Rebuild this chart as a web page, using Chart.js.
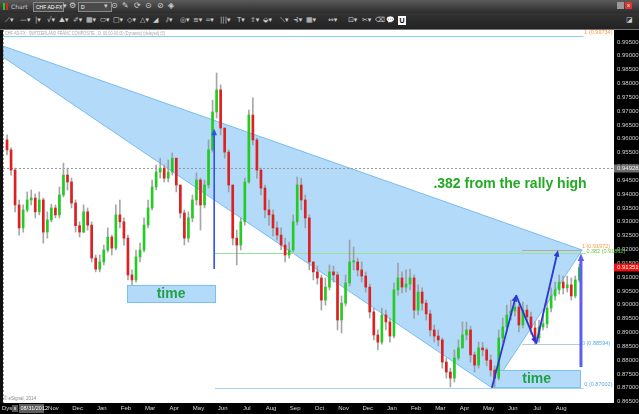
<!DOCTYPE html>
<html>
<head>
<meta charset="utf-8">
<script src="https://cdn.jsdelivr.net/npm/chart.js@4.4.1/dist/chart.umd.min.js"></script>
<style>
  html,body{margin:0;padding:0;width:639px;height:414px;overflow:hidden;background:#000;font-family:"Liberation Sans",Arial,sans-serif;}
  #tb1{position:absolute;left:0;top:0;width:639px;height:13px;background:linear-gradient(#5a5a5a,#2c2c2c);}
  #tb2{position:absolute;left:0;top:13px;width:639px;height:16px;background:linear-gradient(#333,#222);}
  #tbline{position:absolute;left:0;top:29px;width:639px;height:1px;background:#777;}
  .t{position:absolute;color:#cfcfcf;font-size:7px;line-height:9px;white-space:nowrap;font-family:"DejaVu Sans",sans-serif;}
  .box{position:absolute;background:#4a4a4a;border:1px solid #8a8a8a;height:8px;color:#fff;font-size:5px;line-height:8px;padding-left:2px;white-space:nowrap;overflow:hidden;}
  #wrap{position:absolute;left:0;top:30px;width:639px;height:384px;}
</style>
</head>
<body>
<div id="tb1">
  <div style="position:absolute;left:3px;top:3px;width:2px;height:7px;background:#2c2"></div>
  <div style="position:absolute;left:6px;top:3px;width:2px;height:7px;background:#d22"></div>
  <span class="t" style="left:11px;top:2px;font-size:6px">Chart</span>
  <div class="box" style="left:33px;top:2px;width:27px">CHF AD-FX</div>
  <span class="t" style="left:63px;top:2px">▾</span>
  <span class="t" style="left:69px;top:1px;font-size:8px">⚙</span>
  <div class="box" style="left:78px;top:2px;width:30px">D</div>
  <span class="t" style="left:104px;top:2px">▾</span>
  <span class="t" style="left:111px;top:1px;font-size:8px">⊙</span>
  <span class="t" style="left:122px;top:1px;font-size:8px">✎</span>
  <span class="t" style="left:134px;top:1px;font-size:8px">⟳</span>
  <span class="t" style="left:145px;top:1px;font-size:8px">⊙</span>
  <span class="t" style="left:157px;top:1px;font-size:8px">⊘</span>
  <span class="t" style="left:168px;top:1px;font-size:8px">◈</span>
  <div style="position:absolute;left:617px;top:2px;width:7px;height:7px;background:#999"></div>
  <div style="position:absolute;left:625px;top:2px;width:7px;height:7px;background:#d33;color:#fff;font-size:6px;line-height:7px;text-align:center">x</div>
</div>
<div id="tb2">
  <span class="t" style="left:5px;top:3px">⟋▾</span>
  <span class="t" style="left:20px;top:3px">—▾</span>
  <span class="t" style="left:35px;top:3px">|▾</span>
  <span class="t" style="left:47px;top:3px">√▾</span>
  <span class="t" style="left:59px;top:3px">⛰▾</span>
  <span class="t" style="left:73px;top:3px">✐▾</span>
  <span class="t" style="left:86px;top:3px">▦▾</span>
  <span class="t" style="left:100px;top:3px">⬭▾</span>
  <span class="t" style="left:113px;top:3px">□▾</span>
  <span class="t" style="left:127px;top:3px">◇▾</span>
  <span class="t" style="left:140px;top:3px">△▾</span>
  <span class="t" style="left:153px;top:3px">◢</span>
  <span class="t" style="left:166px;top:3px">⫽▾</span>
  <span class="t" style="left:180px;top:3px">◎▾</span>
  <span class="t" style="left:193px;top:3px">≡▾</span>
  <span class="t" style="left:206px;top:3px">═▾</span>
  <span class="t" style="left:220px;top:3px">|||▾</span>
  <span class="t" style="left:237px;top:3px">T▾</span>
  <span class="t" style="left:250px;top:3px">⇧▾</span>
  <span class="t" style="left:263px;top:3px">⬙▾</span>
  <span class="t" style="left:280px;top:3px">⟍▾</span>
  <span class="t" style="left:293px;top:3px">⊰▾</span>
  <span class="t" style="left:306px;top:3px">▦▾</span>
  <span class="t" style="left:328px;top:3px">⇔▾</span>
  <span class="t" style="left:348px;top:3px">⊡▾</span>
  <span class="t" style="left:362px;top:3px">✂▾</span>
  <span class="t" style="left:375px;top:3px">⌫</span>
  <span class="t" style="left:386px;top:3px">💬</span>
  <div style="position:absolute;left:398px;top:3px;width:8px;height:9px;background:#fff;color:#000;font-size:7px;line-height:9px;text-align:center;font-weight:bold">U</div>
  <span class="t" style="left:626px;top:3px">◪</span>
</div>
<div id="tbline"></div>
<div id="wrap"><canvas id="c" width="639" height="384"></canvas></div>
<script>
// ---------- data ----------
const firstOpen = 0.9596;
const closes = [
0.9560,0.9487,0.9361,0.9278,0.9343,0.9379,0.9386,0.9336,0.9379,0.9263,
0.9307,0.9350,0.9325,0.9397,0.9469,0.9444,0.9368,0.9286,0.9263,0.9336,
0.9288,0.9169,0.9129,0.9155,0.9198,0.9245,0.9205,0.9325,0.9300,0.9241,
0.9108,0.9090,0.9173,0.9198,0.9288,0.9350,0.9426,0.9480,0.9494,0.9458,
0.9480,0.9530,0.9433,0.9332,0.9241,0.9314,0.9379,0.9451,0.9361,0.9433,
0.9560,0.9697,0.9777,0.9639,0.9552,0.9433,0.9241,0.9216,0.9300,0.9444,
0.9686,0.9596,0.9487,0.9422,0.9343,0.9325,0.9278,0.9252,0.9216,0.9180,
0.9198,0.9300,0.9433,0.9379,0.9314,0.9155,0.9119,0.9097,0.9017,0.9064,
0.9119,0.9108,0.8945,0.9006,0.9079,0.9155,0.9155,0.9126,0.9104,0.9064,
0.8974,0.8891,0.8865,0.8963,0.8938,0.8887,0.9054,0.9097,0.9064,0.9075,
0.9097,0.8981,0.9046,0.9006,0.8967,0.8909,0.8887,0.8873,0.8793,0.8757,
0.8735,0.8808,0.8844,0.8891,0.8909,0.8819,0.8782,0.8844,0.8837,0.8800,
0.8764,0.8735,0.8880,0.8920,0.8963,0.8978,0.8992,0.8927,0.8981,0.8956,
0.8916,0.8880,0.8920,0.8931,0.8988,0.9032,0.9054,0.9082,0.9061,0.9072,
0.9032,0.9090,0.9135
];
const highs = [
0.9614,0.9567,0.9494,0.9379,0.9361,0.9408,0.9415,0.9401,0.9408,0.9386,
0.9336,0.9364,0.9361,0.9426,0.9512,0.9494,0.9458,0.9379,0.9300,0.9361,
0.9350,0.9300,0.9180,0.9180,0.9216,0.9278,0.9252,0.9361,0.9379,0.9314,
0.9252,0.9126,0.9198,0.9223,0.9314,0.9379,0.9451,0.9505,0.9530,0.9505,
0.9523,0.9549,0.9530,0.9433,0.9343,0.9336,0.9397,0.9477,0.9458,0.9451,
0.9596,0.9740,0.9838,0.9795,0.9639,0.9560,0.9433,0.9270,0.9314,0.9458,
0.9704,0.9748,0.9603,0.9494,0.9433,0.9379,0.9343,0.9300,0.9278,0.9241,
0.9227,0.9325,0.9462,0.9458,0.9397,0.9325,0.9155,0.9140,0.9108,0.9097,
0.9144,0.9140,0.9119,0.9032,0.9108,0.9234,0.9209,0.9169,0.9155,0.9119,
0.9075,0.8988,0.8909,0.8988,0.8981,0.8952,0.9079,0.9151,0.9119,0.9126,
0.9129,0.9108,0.9072,0.9061,0.9017,0.8981,0.8927,0.8909,0.8880,0.8808,
0.8771,0.8837,0.8873,0.8938,0.8938,0.8923,0.8829,0.8865,0.8865,0.8844,
0.8819,0.8779,0.8909,0.8952,0.8999,0.9017,0.9025,0.9003,0.9010,0.8999,
0.8974,0.8938,0.8945,0.8963,0.9017,0.9061,0.9082,0.9108,0.9104,0.9104,
0.9097,0.9104,0.9147
];
const lows = [
0.9542,0.9469,0.9336,0.9252,0.9263,0.9336,0.9361,0.9314,0.9325,0.9223,
0.9241,0.9300,0.9314,0.9314,0.9390,0.9415,0.9350,0.9263,0.9245,0.9260,
0.9270,0.9155,0.9119,0.9119,0.9144,0.9191,0.9180,0.9198,0.9278,0.9216,
0.9090,0.9072,0.9082,0.9155,0.9191,0.9278,0.9343,0.9415,0.9458,0.9444,
0.9444,0.9469,0.9408,0.9314,0.9216,0.9227,0.9300,0.9361,0.9270,0.9350,
0.9422,0.9552,0.9675,0.9614,0.9530,0.9408,0.9216,0.9144,0.9198,0.9288,
0.9440,0.9578,0.9458,0.9397,0.9314,0.9288,0.9249,0.9234,0.9198,0.9155,
0.9169,0.9191,0.9288,0.9343,0.9278,0.9126,0.9090,0.9075,0.8981,0.8999,
0.9054,0.9082,0.8909,0.8898,0.8996,0.9068,0.9126,0.9104,0.9082,0.9046,
0.8952,0.8873,0.8837,0.8858,0.8909,0.8865,0.8880,0.9035,0.9043,0.9046,
0.9054,0.8952,0.8963,0.8981,0.8945,0.8887,0.8865,0.8851,0.8771,0.8735,
0.8703,0.8721,0.8800,0.8844,0.8873,0.8793,0.8757,0.8771,0.8815,0.8779,
0.8742,0.8703,0.8728,0.8865,0.8909,0.8945,0.8960,0.8902,0.8916,0.8938,
0.8894,0.8858,0.8865,0.8909,0.8916,0.8974,0.9017,0.9039,0.9039,0.9046,
0.9017,0.9025,0.9082
];
// month tick labels, Sep 2012 .. Aug 2014
const monthLabels = ['Sep','Oct','Nov','Dec','Jan','Feb','Mar','Apr','May','Jun','Jul','Aug',
                     'Sep','Oct','Nov','Dec','Jan','Feb','Mar','Apr','May','Jun','Jul','Aug'];
const candlesPerMonth = 6;
const firstShownMonth = 2;
const yTickValues = [0.995,0.990,0.985,0.980,0.975,0.970,0.965,0.960,0.955,0.950,0.945,0.940,0.935,
                     0.930,0.925,0.920,0.915,0.910,0.905,0.900,0.895,0.890,0.885,0.880,0.875,0.870,0.865];
const crosshairPrice = 0.94928;
const lastPrice = 0.91351;
const crosshairDate = '08/31/2012';

// drawing-tool annotations in data units (candle index, price)
const wedge = [[-1,0.99355],[142.7,0.9198],[120.3,0.8700],[-1,0.98958]];
const fibLevels = [
  {v:0.99734, text:'1 (0.99734)',     from:-1,    to:143.0, line:'#86d0ee', tc:'#ff9944', dy:-0.5},
  {v:0.91862, text:'0.382 (0.91862)', from:51.6,  to:143.5, line:'#96e296', tc:'#66cc44', dy:1},
  {v:0.87002, text:'0 (0.87002)',     from:51.6,  to:143.0, line:'#a6d2f4', tc:'#55aaee', dy:-0.5},
  {v:0.91972, text:'1 (0.91972)',     from:127.8, to:142.4, line:'#b0a898', tc:'#ff9944', dy:-1},
  {v:0.88594, text:'0 (0.88594)',     from:127.8, to:142.4, line:'#b8c8d8', tc:'#55aaee', dy:3}
];
const arrows = [
  {a:[51.4,0.9129],  b:[51.4,0.9636],  c:'#3050f0', w:1.6, h:7},
  {a:[142.4,0.8775], b:[142.4,0.9185], c:'#5e5ef2', w:3,   h:8},
  {a:[120.3,0.8700], b:[126.3,0.9035], c:'#2a36d6', w:1.8, h:7},
  {a:[126.3,0.9035], b:[131.3,0.88594],c:'#2a36d6', w:1.8, h:7},
  {a:[131.3,0.88594],b:[136.7,0.91972],c:'#2a36d6', w:1.8, h:7}
];
const timeBoxes = [
  {x0:29.8, x1:51.6, y0:0.9072, y1:0.9010},
  {x0:120.6,x1:142.2,y0:0.8764, y1:0.8703}
];
const noteText = '.382 from the rally high';
const noteAt = [124.8, 0.9437];

// ---------- build ----------
const opens = closes.map((c,i)=> i===0 ? firstOpen : closes[i-1]);
const wickData = closes.map((c,i)=>({x:i, y:[lows[i], highs[i]]}));
const bodyData = closes.map((c,i)=>({x:i, y:[Math.min(opens[i],c), Math.max(opens[i],c)]}));
const bodyColors = closes.map((c,i)=> c>=opens[i] ? '#22cc22' : '#dd2020');

function arrow(ctx,x1,y1,x2,y2,color,w,head){
  const a=Math.atan2(y2-y1,x2-x1);
  ctx.strokeStyle=color; ctx.lineWidth=w;
  ctx.beginPath(); ctx.moveTo(x1,y1);
  ctx.lineTo(x2-head*0.7*Math.cos(a), y2-head*0.7*Math.sin(a)); ctx.stroke();
  ctx.fillStyle=color; ctx.beginPath();
  ctx.moveTo(x2,y2);
  ctx.lineTo(x2-head*Math.cos(a-0.42), y2-head*Math.sin(a-0.42));
  ctx.lineTo(x2-head*Math.cos(a+0.42), y2-head*Math.sin(a+0.42));
  ctx.closePath(); ctx.fill();
}

const decor = {
  id:'decor',
  beforeDraw(chart){
    const {ctx, chartArea:ar, width, height} = chart;
    ctx.save();
    ctx.fillStyle='#fff'; ctx.fillRect(0,0,width,height);
    ctx.fillStyle='#000';
    ctx.fillRect(ar.right,0,width-ar.right,height);
    ctx.fillRect(0,ar.bottom,width,height-ar.bottom);
    ctx.fillStyle='#111'; ctx.fillRect(0,0,ar.left,ar.bottom);
    ctx.restore();
  },
  beforeDatasetsDraw(chart){
    const {ctx, chartArea:ar} = chart;
    const X=v=>chart.scales.x.getPixelForValue(v), Y=v=>chart.scales.y.getPixelForValue(v);
    ctx.save();
    ctx.beginPath(); ctx.rect(ar.left,ar.top,ar.right-ar.left,ar.bottom-ar.top); ctx.clip();
    ctx.beginPath();
    wedge.forEach((p,i)=>{ const x=X(p[0]), y=Y(p[1]); i?ctx.lineTo(x,y):ctx.moveTo(x,y); });
    ctx.closePath();
    ctx.fillStyle='#b3dbf9'; ctx.fill();
    ctx.strokeStyle='#78bcef'; ctx.lineWidth=1; ctx.stroke();
    timeBoxes.forEach(b=>{
      const x0=X(b.x0), x1=X(b.x1), y0=Y(b.y0), y1=Y(b.y1);
      ctx.fillStyle='#b3dbf9'; ctx.fillRect(x0,y0,x1-x0,y1-y0);
      ctx.strokeStyle='#7cc0f0'; ctx.lineWidth=1; ctx.strokeRect(Math.round(x0)+0.5,Math.round(y0)+0.5,Math.round(x1-x0),Math.round(y1-y0));
    });
    ctx.setLineDash([2,2]); ctx.strokeStyle='#9a9a9a'; ctx.lineWidth=1;
    const cy=Math.round(Y(crosshairPrice))+0.5;
    ctx.beginPath(); ctx.moveTo(ar.left,cy); ctx.lineTo(ar.right,cy); ctx.stroke();
    ctx.beginPath(); ctx.moveTo(ar.left+0.5,ar.top); ctx.lineTo(ar.left+0.5,ar.bottom); ctx.stroke();
    ctx.setLineDash([]);
    fibLevels.forEach(f=>{
      const y=Math.round(Y(f.v))+0.5;
      ctx.strokeStyle=f.line; ctx.lineWidth=1;
      ctx.beginPath(); ctx.moveTo(Math.max(ar.left,X(f.from)),y); ctx.lineTo(X(f.to),y); ctx.stroke();
    });
    ctx.restore();
  },
  afterDatasetsDraw(chart){
    const {ctx} = chart;
    const X=v=>chart.scales.x.getPixelForValue(v), Y=v=>chart.scales.y.getPixelForValue(v);
    ctx.save();
    arrows.forEach(a=>arrow(ctx,X(a.a[0]),Y(a.a[1]),X(a.b[0]),Y(a.b[1]),a.c,a.w,a.h));
    ctx.font='bold 14px "Liberation Sans", Arial, sans-serif';
    ctx.fillStyle='#22a048'; ctx.textAlign='center'; ctx.textBaseline='middle';
    timeBoxes.forEach(b=>{ ctx.fillText('time', X((b.x0+b.x1)/2), Y((b.y0+b.y1)/2)+1); });
    ctx.fillStyle='#22aa22';
    ctx.fillText(noteText, X(noteAt[0]), Y(noteAt[1]));
    ctx.font='5.5px "Liberation Sans", Arial, sans-serif';
    ctx.textAlign='left'; ctx.textBaseline='bottom';
    fibLevels.forEach(f=>{
      ctx.fillStyle=f.tc;
      ctx.fillText(f.text, X(f.to)+1, Y(f.v)+f.dy);
    });
    ctx.restore();
  },
  afterDraw(chart){
    const {ctx, chartArea:ar, width} = chart;
    const Y=v=>chart.scales.y.getPixelForValue(v);
    ctx.save();
    ctx.font='6px "Liberation Sans", Arial, sans-serif'; ctx.textBaseline='middle'; ctx.textAlign='left';
    let y=Y(crosshairPrice);
    ctx.fillStyle='#6e6e6e'; ctx.fillRect(ar.right,y-4,width-ar.right,8);
    ctx.fillStyle='#eee'; ctx.fillText(crosshairPrice.toFixed(5), ar.right+3, y);
    y=Y(lastPrice);
    ctx.fillStyle='#ee1111'; ctx.fillRect(ar.right,y-4,width-ar.right,8);
    ctx.fillStyle='#fff'; ctx.fillText(lastPrice.toFixed(5), ar.right+3, y);
    const title='CHF AD-FX : SWITZERLAND FRANC COMPOSITE , D, 00:00-00:00 (Dynamic) (delayed) (5)';
    ctx.font='5px "Liberation Sans", Arial, sans-serif';
    const w=ctx.measureText(title).width;
    ctx.save(); ctx.translate(5,3.5); ctx.scale(160/w,1);
    ctx.fillStyle='#a8a8a8'; ctx.textBaseline='middle'; ctx.fillText(title,0,0); ctx.restore();
    ctx.font='4.5px "Liberation Sans", Arial, sans-serif'; ctx.fillStyle='#888';
    ctx.fillText('© eSignal, 2014', 4, ar.bottom-4);
    const by=ar.bottom+5.5;
    ctx.font='6px "Liberation Sans", Arial, sans-serif'; ctx.fillStyle='#ddd';
    ctx.fillText('Dys',2,by);
    ctx.fillStyle='#555'; ctx.fillRect(12,ar.bottom+2,6,7);
    ctx.fillStyle='#aaa'; ctx.fillRect(14,ar.bottom+4,2,3);
    ctx.fillStyle='#5c5c5c'; ctx.fillRect(19,ar.bottom+1,25,9);
    ctx.fillStyle='#fff'; ctx.font='5.5px "Liberation Sans", Arial, sans-serif';
    ctx.fillText(crosshairDate,20.5,by);
    ctx.restore();
  }
};

new Chart(document.getElementById('c'), {
  type:'bar',
  data:{
    datasets:[
      {label:'body', data:bodyData, backgroundColor:bodyColors, barThickness:2, minBarLength:1, grouped:false, order:0},
      {label:'wick', data:wickData, backgroundColor:'rgba(150,150,150,0.85)', barThickness:1, grouped:false, order:1}
    ]
  },
  options:{
    responsive:false, animation:false, devicePixelRatio:1,
    layout:{padding:{left:3,top:0,right:0,bottom:0}},
    plugins:{legend:{display:false}, tooltip:{enabled:false}},
    scales:{
      x:{
        type:'linear', min:-1, max:150.6, offset:false,
        grid:{display:false, drawTicks:false}, border:{display:false},
        afterBuildTicks(axis){
          axis.ticks = monthLabels.map((m,i)=>({value:i*candlesPerMonth-0.5})).filter((t,i)=>i>=firstShownMonth);
        },
        ticks:{
          autoSkip:false, maxRotation:0, padding:2, color:'#d8d8d8',
          font:{size:6, family:'"Liberation Sans", Arial, sans-serif'},
          callback:(v)=>monthLabels[Math.round((v+0.5)/candlesPerMonth)]
        },
        afterFit(axis){ axis.height=11; axis.paddingLeft=0; axis.paddingRight=0; }
      },
      y:{
        type:'linear', position:'right', min:0.8645, max:0.99934,
        grid:{display:false, drawTicks:false}, border:{display:false},
        afterBuildTicks(axis){ axis.ticks = yTickValues.map(v=>({value:v})); },
        ticks:{
          autoSkip:false, padding:3, color:'#d0d0d0',
          font:{size:6, family:'"Liberation Sans", Arial, sans-serif'},
          callback:(v)=>Number(v).toFixed(5)
        },
        afterFit(axis){ axis.width=25; axis.paddingTop=0; axis.paddingBottom=0; }
      }
    }
  },
  plugins:[decor]
});
</script>
</body>
</html>
